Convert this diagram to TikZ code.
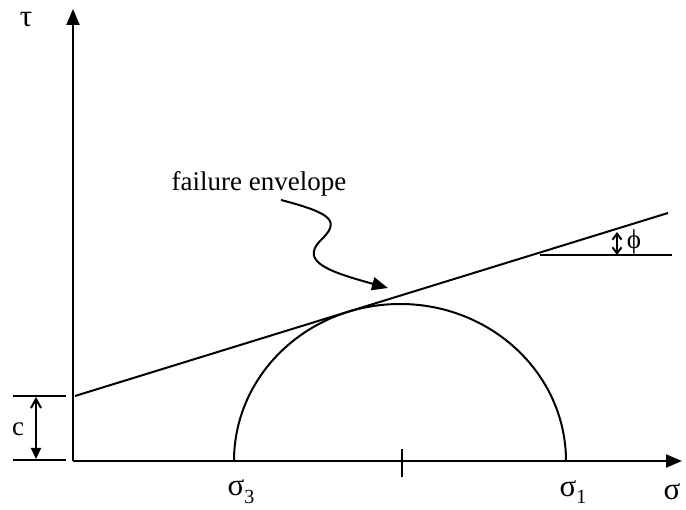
\documentclass[tikz,border=0pt]{standalone}
\usepackage{fontspec}
\setmainfont{Liberation Serif}
\usetikzlibrary{arrows.meta}
\newcommand{\lowsub}[1]{\raisebox{-0.25em}{\fontsize{20}{24}\selectfont #1}}
\begin{document}
\begin{tikzpicture}[x=1pt,y=-1pt,
  ln/.style={line width=2pt},
  thin ln/.style={line width=1.3pt},
  lbl/.style={font=\fontsize{27}{32}\selectfont, inner sep=0pt},
  glbl/.style={font=\fontsize{31}{36}\selectfont, inner sep=0pt},
  tip/.style={-{Triangle[length=16pt,width=13pt]}}]
\useasboundingbox (0,0) rectangle (686,510);
% axes
\coordinate (O) at (73,461);
\coordinate (Ytop) at (73,9);
\coordinate (Xend) at (682,461);
\draw[ln,tip] (O) -- (Ytop);
\draw[ln,tip] (O) -- (Xend);
\node[glbl] (tau) at (26,20) {τ};
\node[glbl] (sig) at (672,492) {σ};
% envelope
\coordinate (E1) at (75,396);
\coordinate (E2) at (668,213);
\draw[ln] (E1) -- (E2);
% c dimension
\coordinate (cT1) at (13,396); \coordinate (cT2) at (66,396);
\coordinate (cB1) at (13,460); \coordinate (cB2) at (66,460);
\draw[thin ln] (cT1) -- (cT2);
\draw[thin ln] (cB1) -- (cB2);
\coordinate (cA) at (36,397); \coordinate (cB) at (36,459);
\draw[ln,{Straight Barb[length=9pt,width=10pt]}-{Triangle[length=11pt,width=10pt]}] (cA) -- (cB);
\node[lbl] (c) at (18,429) {c};
% Mohr semicircle
\draw[ln] (234,461) arc[start angle=180,end angle=360,x radius=166,y radius=157];
\coordinate (tk1) at (402,449); \coordinate (tk2) at (402,477);
\draw[ln] (tk1) -- (tk2);
\node[glbl] (s3) at (241,492) {σ\lowsub{3}};
\node[glbl] (s1) at (573,492) {σ\lowsub{1}};
% phi
\coordinate (H1) at (540,255); \coordinate (H2) at (672,255);
\draw[ln] (H1) -- (H2);
\coordinate (pA) at (617,232); \coordinate (pB) at (617,255);
\draw[ln,{Straight Barb[length=6pt,width=9pt]}-{Straight Barb[length=6pt,width=9pt]}] (pA) -- (pB);
\node[lbl] (phi) at (634,242) {ϕ};
% label and curvy arrow
\node[lbl] (fe) at (259,184) {failure envelope};
\coordinate (w1) at (281,200);
\coordinate (w2) at (320,241);
\coordinate (w3) at (388,288);
\draw[ln,tip] (w1) .. controls (335,214) and (340,222) .. (w2) .. controls (300,262) and (330,272) .. (w3);
\end{tikzpicture}
\end{document}
